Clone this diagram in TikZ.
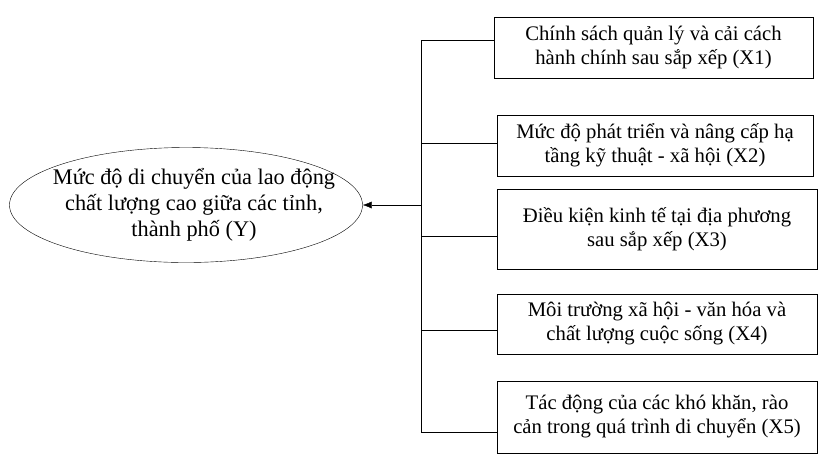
\documentclass[tikz,border=0pt]{standalone}
\usepackage{fontspec}
\setmainfont{Liberation Serif}
\usetikzlibrary{shapes.geometric,arrows.meta}
\begin{document}
\begin{tikzpicture}[x=1pt, y=-1pt, >={Latex[length=9pt,width=7pt]},
    factor/.style={draw, semithick, align=center, inner sep=0pt, font=\fontsize{20.7}{24}\selectfont},
    target/.style={draw, ellipse, inner sep=0pt, minimum width=353pt, minimum height=115pt},
    targettext/.style={align=center, inner sep=0pt, font=\fontsize{22.3}{26}\selectfont}]
        \useasboundingbox (0, 0) rectangle (826, 456);
        \node[target] (y) at (186, 205) {};
        \node[targettext, xshift=8pt] (ytext) at (y.center) {Mức độ di chuyển của lao động\\chất lượng cao giữa các tỉnh,\\thành phố (Y)};
        \node[factor, minimum width=319pt, minimum height=61pt] (x1) at (653.5, 47.5) {Chính sách quản lý và cải cách\\hành chính sau sắp xếp (X1)};
        \node[factor, minimum width=316pt, minimum height=61pt] (x2) at (655, 145.5) {Mức độ phát triển và nâng cấp hạ\\tầng kỹ thuật - xã hội (X2)};
        \node[factor, minimum width=320pt, minimum height=80pt] (x3) at (657, 229) {Điều kiện kinh tế tại địa phương\\sau sắp xếp (X3)};
        \node[factor, minimum width=320pt, minimum height=60pt] (x4) at (657, 324) {Môi trường xã hội - văn hóa và\\chất lượng cuộc sống (X4)};
        \node[factor, minimum width=320pt, minimum height=72pt] (x5) at (657, 417) {Tác động của các khó khăn, rào\\cản trong quá trình di chuyển (X5)};
        % trunk
        \coordinate (t1) at (421, 40);
        \coordinate (t2) at (421, 143);
        \coordinate (t3) at (421, 236);
        \coordinate (t4) at (421, 330);
        \coordinate (t5) at (421, 432);
        \coordinate (ty) at (421, 205);
        \draw (t1) -- (t5);
        \foreach \i in {1,...,5}
          \draw (t\i) -- (t\i -| x\i.west);
        \draw[->] (ty) -- (y.east);
      \end{tikzpicture}
\end{document}
